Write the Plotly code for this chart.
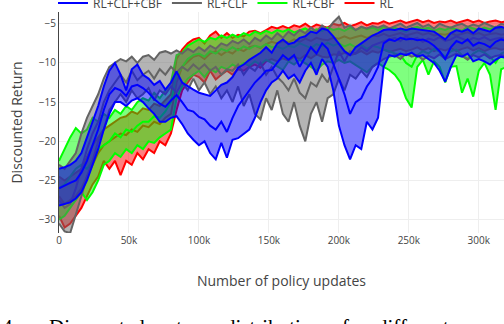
import plotly.graph_objects as go

steps = list(range(0, 321000, 4000))

blue_upper = [-23.5, -23.3, -23.0, -22.5, -21.5, -19.5, -17.5, -15.5, -13.0, -11.0,
              -10.0, -11.5, -13.5, -10.8, -10.2, -11.5, -12.0, -12.8, -12.3, -13.4,
              -12.5, -11.1, -12.5, -13.0, -13.4, -13.8, -14.0, -14.2, -13.5, -12.8,
              -12.5, -11.8, -10.6, -10.2, -9.6, -9.2, -8.7, -8.0, -8.7, -7.5,
              -7.0, -7.6, -7.4, -6.8, -6.6, -6.0, -6.2, -5.6, -5.8, -6.6,
              -7.5, -8.5, -9.0, -8.0, -7.5, -7.0, -6.5, -6.2, -5.8, -5.7,
              -5.8, -5.6, -5.8, -5.6, -5.7, -5.8, -5.9, -6.0, -6.5, -7.0,
              -6.2, -5.8, -6.0, -5.7, -6.2, -5.6, -5.8, -6.0, -5.5, -5.4,
              -5.6]
blue_mean = [-26.0, -25.6, -25.3, -25.0, -24.0, -22.5, -20.5, -18.5, -16.0, -14.0,
             -13.2, -13.5, -14.2, -13.0, -12.8, -13.2, -13.8, -14.6, -15.2, -15.6,
             -14.8, -14.1, -15.0, -16.0, -16.2, -16.9, -17.2, -18.0, -18.5, -17.5,
             -18.8, -17.0, -15.5, -14.5, -13.5, -12.5, -11.8, -11.0, -10.9, -10.0,
             -9.0, -9.6, -9.0, -10.5, -9.2, -8.0, -8.8, -7.5, -8.2, -10.0,
             -12.0, -14.0, -16.5, -15.0, -14.5, -13.0, -12.0, -10.5, -7.5, -7.0,
             -7.2, -6.8, -7.0, -6.9, -7.1, -7.0, -7.3, -7.8, -8.5, -9.5,
             -8.0, -7.2, -7.5, -7.0, -7.8, -7.4, -7.6, -8.0, -7.3, -7.0,
             -7.2]
blue_lower = [-28.2, -28.0, -27.8, -27.3, -26.5, -25.0, -23.0, -21.0, -18.5, -16.5,
              -15.0, -15.0, -15.5, -14.8, -14.5, -15.0, -15.8, -16.5, -17.5, -17.5,
              -17.0, -16.8, -17.8, -19.0, -19.8, -20.5, -20.0, -21.5, -22.3, -20.2,
              -22.1, -19.8, -19.6, -19.0, -18.5, -17.0, -15.0, -13.5, -12.5, -12.0,
              -11.0, -12.0, -11.5, -12.5, -11.0, -10.0, -11.5, -9.5, -10.5, -13.5,
              -18.0, -20.5, -22.3, -20.5, -21.0, -17.5, -18.5, -17.0, -10.5, -9.0,
              -9.2, -8.8, -9.0, -8.7, -9.2, -9.0, -9.5, -10.0, -11.0, -12.4,
              -10.5, -9.0, -9.2, -8.8, -9.8, -9.5, -9.8, -10.2, -9.6, -9.2,
              -9.4]

gray_upper = [-23.0, -23.5, -22.5, -21.5, -19.0, -17.0, -15.5, -14.0, -12.0, -10.5,
              -10.0, -9.5, -9.8, -9.2, -10.0, -9.2, -9.0, -9.6, -8.7, -8.5,
              -8.8, -8.4, -8.8, -8.2, -8.6, -8.0, -8.5, -7.8, -8.2, -7.5,
              -7.8, -7.2, -7.5, -7.0, -7.6, -6.8, -7.2, -6.5, -7.0, -6.2,
              -6.8, -6.0, -6.5, -5.8, -6.2, -5.5, -6.0, -5.2, -5.8, -4.8,
              -4.1, -5.5, -5.2, -5.8, -5.4, -5.6, -5.3, -5.5, -5.2, -5.6,
              -5.3, -5.0, -5.5, -5.2, -4.9, -5.4, -5.1, -5.6, -5.0, -5.3,
              -5.5, -5.2, -5.0, -5.4, -5.1, -5.3, -4.9, -5.2, -5.5, -5.0,
              -5.2]
gray_mean = [-27.5, -28.5, -28.0, -26.0, -23.5, -21.0, -19.0, -17.5, -15.0, -13.5,
             -12.5, -11.5, -12.5, -11.0, -12.2, -11.5, -11.0, -12.0, -10.8, -11.5,
             -10.5, -11.2, -10.5, -11.0, -10.2, -10.8, -10.2, -11.0, -10.5, -11.5,
             -10.8, -11.0, -10.2, -11.5, -10.5, -11.0, -10.0, -11.5, -10.5, -11.8,
             -12.5, -13.5, -12.0, -13.8, -14.5, -12.5, -13.0, -11.5, -12.5, -10.5,
             -8.5, -9.8, -8.5, -8.8, -8.0, -8.5, -7.8, -7.5, -7.2, -7.0,
             -6.8, -7.2, -6.6, -7.0, -6.8, -7.3, -6.9, -7.1, -6.7, -7.2,
             -7.0, -6.6, -6.9, -7.2, -6.8, -7.0, -6.7, -7.1, -6.9, -6.8,
             -7.0]
gray_lower = [-30.5, -31.5, -31.7, -29.5, -27.0, -24.5, -22.5, -20.0, -18.5, -16.0,
              -15.0, -14.0, -15.0, -13.5, -14.5, -14.0, -13.2, -14.8, -13.5, -14.0,
              -13.0, -13.8, -12.5, -13.5, -12.0, -13.5, -12.5, -14.0, -13.0, -14.5,
              -13.5, -15.0, -13.0, -15.5, -14.0, -16.5, -17.2, -14.5, -16.0, -13.5,
              -16.5, -17.5, -15.0, -18.0, -20.0, -16.5, -15.0, -17.5, -14.5, -14.0,
              -12.0, -13.5, -11.5, -12.0, -11.0, -11.8, -10.5, -10.0, -9.5, -9.2,
              -9.0, -9.5, -8.8, -9.2, -9.0, -9.6, -9.1, -9.4, -8.9, -9.5,
              -9.2, -8.8, -9.1, -9.6, -9.0, -9.3, -8.9, -9.4, -9.1, -9.0,
              -9.2]

green_upper = [-22.5, -21.0, -19.5, -18.3, -19.0, -18.5, -17.0, -17.5, -16.5, -17.0,
               -16.0, -16.5, -15.5, -16.0, -15.0, -14.5, -14.8, -13.8, -14.5, -13.5,
               -12.5, -9.0, -8.7, -7.8, -7.4, -7.0, -7.3, -6.8, -7.0, -6.5,
               -6.8, -6.4, -6.7, -6.2, -6.5, -6.0, -6.3, -5.9, -6.2, -5.8,
               -6.0, -5.7, -6.1, -5.8, -5.6, -6.0, -5.7, -5.9, -5.5, -5.8,
               -5.6, -5.9, -5.5, -5.8, -5.4, -5.7, -5.5, -5.8, -5.4, -5.6,
               -5.5, -5.8, -6.0, -5.6, -5.4, -5.7, -5.5, -5.9, -5.6, -5.8,
               -5.5, -5.7, -5.9, -5.4, -5.6, -5.8, -5.5, -5.7, -5.4, -5.6,
               -5.5]
green_mean = [-26.0, -25.5, -24.5, -23.5, -23.0, -23.5, -22.5, -21.0, -20.5, -20.0,
              -19.0, -19.5, -18.5, -18.8, -18.0, -17.5, -17.5, -16.8, -17.0, -16.2,
              -15.0, -11.5, -10.5, -9.5, -9.0, -8.8, -9.2, -8.5, -8.8, -8.2,
              -8.5, -8.0, -8.4, -7.9, -8.2, -7.8, -8.0, -7.6, -8.0, -7.9,
              -8.2, -7.8, -8.0, -7.5, -7.8, -8.1, -7.6, -7.9, -7.4, -7.8,
              -7.5, -7.9, -7.6, -8.0, -7.7, -8.2, -7.8, -8.0, -8.3, -8.5,
              -8.8, -9.0, -10.0, -10.5, -9.0, -8.5, -8.8, -8.2, -8.6, -9.2,
              -8.5, -8.3, -9.0, -9.5, -8.8, -8.4, -8.7, -9.2, -10.0, -8.8,
              -8.5]
green_lower = [-30.0, -29.5, -28.5, -27.5, -26.5, -27.5, -26.5, -25.0, -23.0, -22.5,
               -21.5, -22.0, -21.0, -21.5, -20.5, -21.0, -20.0, -20.2, -19.5, -19.0,
               -18.5, -14.5, -13.0, -12.0, -11.5, -11.0, -11.8, -10.8, -11.2, -10.5,
               -10.8, -10.2, -10.6, -10.0, -10.4, -9.8, -10.2, -9.6, -10.0, -10.5,
               -10.9, -9.8, -10.2, -9.6, -10.0, -10.5, -11.0, -10.2, -9.8, -10.0,
               -9.6, -10.0, -9.8, -10.3, -10.8, -11.2, -10.5, -10.0, -10.5, -10.9,
               -11.5, -12.5, -14.5, -15.7, -10.5, -9.6, -11.5, -9.8, -10.5, -12.5,
               -10.5, -10.4, -13.8, -12.0, -14.3, -11.0, -10.0, -11.5, -16.0, -10.8,
               -10.5]

red_upper = [-24.5, -25.0, -24.5, -24.0, -23.5, -22.0, -20.5, -19.5, -18.5, -18.0,
             -17.5, -17.0, -16.8, -16.2, -16.5, -15.8, -16.0, -15.2, -15.5, -14.8,
             -14.0, -9.5, -8.3, -7.5, -7.0, -6.8, -7.5, -6.5, -6.0, -6.8,
             -6.2, -6.8, -6.4, -6.6, -6.0, -5.9, -6.2, -5.8, -5.4, -5.6,
             -5.3, -5.6, -5.2, -5.4, -5.0, -5.5, -5.1, -5.3, -5.5, -5.0,
             -5.2, -4.9, -5.3, -5.1, -4.8, -5.2, -4.9, -5.0, -4.7, -5.0,
             -4.8, -4.6, -4.9, -4.7, -4.5, -4.8, -4.6, -4.9, -4.7, -4.8,
             -4.6, -4.9, -4.7, -4.5, -4.8, -4.6, -4.9, -4.7, -4.6, -4.8,
             -4.7]
red_mean = [-27.0, -28.0, -27.5, -27.0, -26.0, -24.5, -23.0, -21.5, -20.5, -20.0,
            -19.5, -19.0, -19.2, -18.5, -18.8, -18.0, -18.2, -17.5, -17.8, -17.0,
            -16.5, -12.5, -10.5, -9.8, -9.2, -9.0, -9.5, -8.8, -8.5, -9.0,
            -8.5, -8.8, -8.2, -8.5, -8.0, -7.8, -8.1, -7.6, -7.3, -7.5,
            -7.2, -7.4, -7.0, -7.3, -6.9, -7.2, -6.8, -7.0, -7.1, -6.8,
            -6.9, -6.6, -6.9, -6.7, -6.5, -6.8, -6.5, -6.6, -6.3, -6.6,
            -6.4, -6.2, -6.5, -6.3, -6.1, -6.4, -6.2, -6.5, -6.3, -6.4,
            -6.2, -6.5, -6.3, -6.1, -6.4, -6.2, -6.5, -6.3, -6.2, -6.4,
            -6.3]
red_lower = [-29.5, -31.0, -30.5, -29.5, -28.5, -27.0, -25.5, -24.5, -22.5, -23.5,
             -22.5, -24.3, -22.5, -23.0, -21.5, -22.3, -21.0, -21.5, -20.0, -20.5,
             -19.0, -16.0, -13.5, -12.5, -11.5, -11.8, -12.5, -11.0, -12.1, -11.5,
             -11.0, -11.5, -10.8, -11.0, -10.5, -10.2, -10.6, -9.8, -9.5, -9.8,
             -9.4, -9.7, -9.2, -9.5, -9.0, -9.4, -8.9, -9.2, -9.3, -8.9,
             -9.0, -8.7, -9.0, -8.8, -8.5, -8.9, -8.5, -8.7, -8.3, -8.6,
             -8.4, -8.2, -8.5, -8.3, -8.0, -8.4, -8.1, -8.5, -8.2, -8.4,
             -8.1, -8.5, -8.2, -8.0, -8.4, -8.1, -8.5, -8.2, -8.1, -8.3,
             -8.2]

series_names = ["RL+CLF+CBF", "RL+CLF", "RL+CBF", "RL"]
y_ticks = [-30, -25, -20, -15, -10, -5]
x_ticks = [0, 50000, 100000, 150000, 200000, 250000, 300000]
x_tick_labels = ["0", "50k", "100k", "150k", "200k", "250k", "300k"]
caption_words = ["4:", "Discounted", "return", "distribution", "for", "different"]

series = [
    # drawn bottom to top
    ("RL", red_lower, red_mean, red_upper, "rgb(255,0,0)", "rgba(255,0,0,0.5)", 4),
    ("RL+CBF", green_lower, green_mean, green_upper, "rgb(0,255,0)", "rgba(0,255,0,0.5)", 3),
    ("RL+CLF", gray_lower, gray_mean, gray_upper, "rgb(100,100,100)", "rgba(105,105,105,0.5)", 2),
    ("RL+CLF+CBF", blue_lower, blue_mean, blue_upper, "rgb(0,0,255)", "rgba(0,0,255,0.5)", 1),
]

fig = go.Figure()
for name, lo, mid, hi, lc, fc, rank in series:
    fig.add_trace(go.Scatter(x=steps, y=lo, mode="lines", line=dict(color=lc, width=2),
                             showlegend=False, hoverinfo="skip"))
    fig.add_trace(go.Scatter(x=steps, y=hi, mode="lines", line=dict(color=lc, width=2),
                             fill="tonexty", fillcolor=fc, showlegend=False, hoverinfo="skip"))
    fig.add_trace(go.Scatter(x=steps, y=mid, mode="lines", line=dict(color=lc, width=2),
                             name=name, legendrank=rank))

caption_px = [0, 47, 158, 223, 340, 375]
for word, px in zip(caption_words, caption_px):
    fig.add_annotation(text=word, xref="paper", yref="paper", x=(px - 59) / 445, y=-0.36,
                       xanchor="left", yanchor="top", showarrow=False,
                       font=dict(family="Liberation Serif", size=21, color="black"))

fig.update_layout(
    width=504, height=324,
    margin=dict(l=59, r=0, t=12, b=91, autoexpand=False),
    paper_bgcolor="white", plot_bgcolor="white",
    font=dict(family="Open Sans, Arial, sans-serif", color="#444"),
    legend=dict(orientation="h", traceorder="normal",
                x=53 / 504, xref="container", y=1 - 3 / 324, yref="container",
                xanchor="left", yanchor="middle",
                font=dict(size=12, color="#444"), bgcolor="rgba(0,0,0,0)"),
    xaxis=dict(range=[0, 318000], tickvals=x_ticks, ticktext=x_tick_labels,
               showgrid=True, gridcolor="#eeeeee", zeroline=False, showline=False,
               automargin=False,
               tickfont=dict(size=10, color="#444"),
               title=dict(text="Number of policy updates", font=dict(size=14, color="#444"),
                          standoff=30)),
    yaxis=dict(range=[-31.7, -3.5], tickvals=y_ticks,
               showgrid=True, gridcolor="#eeeeee", zeroline=False,
               showline=True, linecolor="#444", linewidth=1, automargin=False,
               tickfont=dict(size=10, color="#444"),
               title=dict(text="Discounted Return", font=dict(size=14, color="#444"),
                          standoff=12)),
)

fig.write_html("out.html", config={"displayModeBar": False},
               post_script="document.body.style.margin='0';document.body.style.overflow='hidden';")
